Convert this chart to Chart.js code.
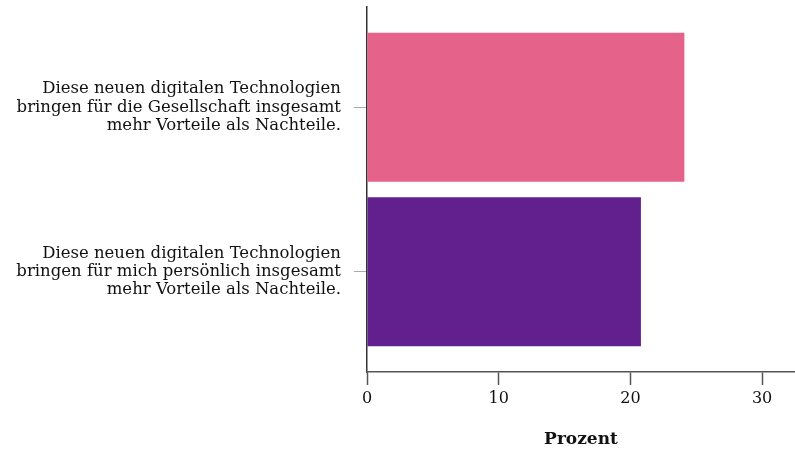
<!DOCTYPE html>
<html>
<head>
<meta charset="utf-8">
<script src="https://cdn.jsdelivr.net/npm/chart.js@4/dist/chart.umd.min.js"></script>
<style>
  html, body { margin: 0; padding: 0; background: #ffffff; }
  #wrap { width: 795px; height: 450px; position: relative; }
</style>
</head>
<body>
<div id="wrap"><canvas id="c" width="795" height="450"></canvas></div>
<script>
const categories = [
  ["Diese neuen digitalen Technologien", "bringen für die Gesellschaft insgesamt", "mehr Vorteile als Nachteile."],
  ["Diese neuen digitalen Technologien", "bringen für mich persönlich insgesamt", "mehr Vorteile als Nachteile."]
];
const values = [24.1, 20.8];
const barColors = ["#E5638A", "#61208D"];
const xTicks = [0, 10, 20, 30];
const xTitle = "Prozent";

const serif = '"DejaVu Serif", "Liberation Serif", serif';

new Chart(document.getElementById('c'), {
  type: 'bar',
  data: {
    datasets: [{
      data: values.map((v, i) => ({ x: v, y: i })),
      backgroundColor: barColors,
      borderWidth: 0,
      categoryPercentage: 1.0,
      barPercentage: 0.906
    }]
  },
  options: {
    indexAxis: 'y',
    responsive: false,
    animation: false,
    layout: { padding: { top: 7, right: 0, bottom: 0, left: 0 } },
    plugins: { legend: { display: false }, tooltip: { enabled: false } },
    scales: {
      y: {
        type: 'linear',
        reverse: true,
        offset: false,
        min: -0.61,
        max: 1.61,
        afterBuildTicks: (s) => { s.ticks = categories.map((_, i) => ({ value: i })); },
        afterFit: (s) => { s.width = 367; s.paddingTop = 0; s.paddingBottom = 0; },
        grid: { offset: false, drawOnChartArea: false, drawTicks: true, tickLength: 13, tickColor: '#aaaaaa', tickWidth: 1 },
        border: { display: true, color: '#333333', width: 1.5 },
        ticks: {
          callback: (v) => categories[v] || '',
          color: '#111111',
          padding: 13,
          font: { family: serif, size: 16.5, lineHeight: 1.12 }
        }
      },
      x: {
        type: 'linear',
        min: 0,
        max: 32.5,
        afterBuildTicks: (s) => { s.ticks = xTicks.map(v => ({ value: v })); },
        afterFit: (s) => { s.height = 78; s.paddingLeft = 0; s.paddingRight = 0; },
        grid: { drawOnChartArea: false, drawTicks: true, tickLength: 13, tickColor: '#555555', tickWidth: 1.5 },
        border: { display: true, color: '#555555', width: 1.5 },
        ticks: {
          color: '#111111',
          padding: 4,
          font: { family: serif, size: 16 }
        },
        title: {
          display: true,
          text: xTitle,
          color: '#111111',
          padding: { top: 2, bottom: 0 },
          font: { family: serif, size: 17, weight: 'bold' }
        }
      }
    }
  }
});
</script>
</body>
</html>
